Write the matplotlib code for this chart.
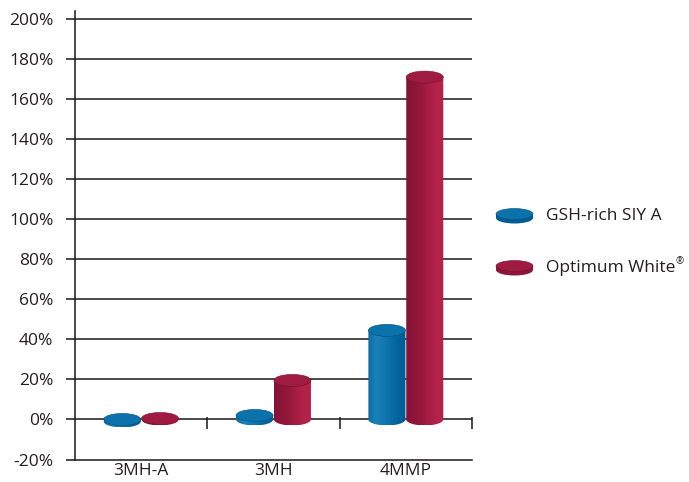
import numpy as np
import matplotlib
matplotlib.use("Agg")
import matplotlib.pyplot as plt
from matplotlib.patches import Ellipse, Polygon
from matplotlib.colors import LinearSegmentedColormap

plt.rcParams['font.family'] = ['Open Sans', 'DejaVu Sans']

categories = ['3MH-A', '3MH', '4MMP']
series_names = ['GSH-rich SIY A', 'Optimum White']
gsh_values = [-1.0, 2.0, 44.5]
opt_values = [0.5, 19.5, 171.0]
yticks = list(range(-20, 201, 20))

TXT = '#231f20'
FS = 12.5
blue_grad = ['#0b6ca4', '#1a80b9', '#1479b2', '#0a6ea7', '#02639b', '#005e95']
red_grad = ['#86123a', '#8c1539', '#951839', '#a81d45', '#b3224a', '#b52349']
blue_top = '#0c72ab'
red_top = '#a01b42'
blue_edge = '#00507e'
red_edge = '#7a0f30'

fig = plt.figure(figsize=(6.89, 4.82), dpi=100)
ax = fig.add_axes([75/689, 1 - 459.5/482, (472 - 75)/689, (459.5 - 11)/482])

XMIN, XMAX = -0.5, 2.5
YMIN, YMAX = -20, 204
W = 0.28
OFF = 0.143
EH = 6.0  # ellipse height in data units


def cylinder(xc, v, grad, top, edge, z=3):
    a = W / 2
    c = EH / 2
    b = min(0.0, v)
    t = max(0.0, v)
    th = np.linspace(np.pi, 2 * np.pi, 60)
    pts = [(xc + a * np.cos(q), b + c * np.sin(q)) for q in th]
    pts += [(xc + a, t), (xc - a, t)]
    body = Polygon(pts, closed=True, facecolor='none', edgecolor='none', zorder=z)
    ax.add_patch(body)
    cmap = LinearSegmentedColormap.from_list('g', grad)
    img = ax.imshow(np.linspace(0, 1, 128).reshape(1, -1), cmap=cmap,
                    extent=[xc - a, xc + a, b - c, t], aspect='auto',
                    origin='lower', zorder=z, interpolation='bilinear')
    img.set_clip_path(body)
    ax.add_patch(Ellipse((xc, t), W, EH, facecolor=top, edgecolor=edge,
                         linewidth=0.4, zorder=z + 0.5))


for i in range(len(categories)):
    cylinder(i - OFF, gsh_values[i], blue_grad, blue_top, blue_edge)
    cylinder(i + OFF, opt_values[i], red_grad, red_top, red_edge)

# gridlines
for yv in yticks[1:]:
    ax.axhline(yv, color=TXT, linewidth=1.15, zorder=1)

# category divider ticks on zero line
ax.vlines([0.5, 1.5, 2.5], -5.0, 1.0, color=TXT, linewidth=1.15, zorder=1,
          clip_on=False)

ax.set_xlim(XMIN, XMAX)
ax.set_ylim(YMIN, YMAX)
ax.set_yticks(yticks)
ax.set_yticklabels([f'{v}%' for v in yticks], fontsize=FS, color=TXT)
ax.set_xticks(range(len(categories)))
ax.set_xticklabels(categories, fontsize=FS, color=TXT)
ax.tick_params(axis='y', length=6.5, width=1.15, color=TXT, pad=9)
ax.tick_params(axis='x', length=0, pad=2.5)
for s in ['top', 'right']:
    ax.spines[s].set_visible(False)
ax.spines['left'].set_color(TXT)
ax.spines['left'].set_linewidth(1.15)
ax.spines['bottom'].set_color(TXT)
ax.spines['bottom'].set_linewidth(1.15)
ax.spines['bottom'].set_bounds(XMIN, XMAX)

# legend (manual, disc icons)
def legend_disc(xp, yp, top, side, edge, label, sup=None):
    w = 37 / 689
    h = 11 / 482
    d = 4 / 482
    fig.add_artist(Ellipse((xp, yp - d), w, h, transform=fig.transFigure,
                           facecolor=side, edgecolor='none'))
    fig.add_artist(plt.Rectangle((xp - w / 2, yp - d), w, d,
                                 transform=fig.transFigure, facecolor=side,
                                 edgecolor='none'))
    fig.add_artist(Ellipse((xp, yp), w, h, transform=fig.transFigure,
                           facecolor=top, edgecolor=edge, linewidth=0.4))
    t = fig.text(xp + 31 / 689, yp - 2 / 482, label, fontsize=FS, color=TXT,
                 va='center', ha='left')
    if sup:
        fig.canvas.draw()
        bb = t.get_window_extent()
        fig.text((bb.x1 + 0.5) / 689, yp + 4 / 482, sup, fontsize=7,
                 color=TXT, va='center', ha='left')

legend_disc(514.5 / 689, 1 - 214 / 482, blue_top, '#005e95', blue_edge,
            series_names[0])
legend_disc(514.5 / 689, 1 - 266 / 482, red_top, '#8c1539', red_edge,
            series_names[1], sup='®')

fig.savefig('out.png', dpi=100)
